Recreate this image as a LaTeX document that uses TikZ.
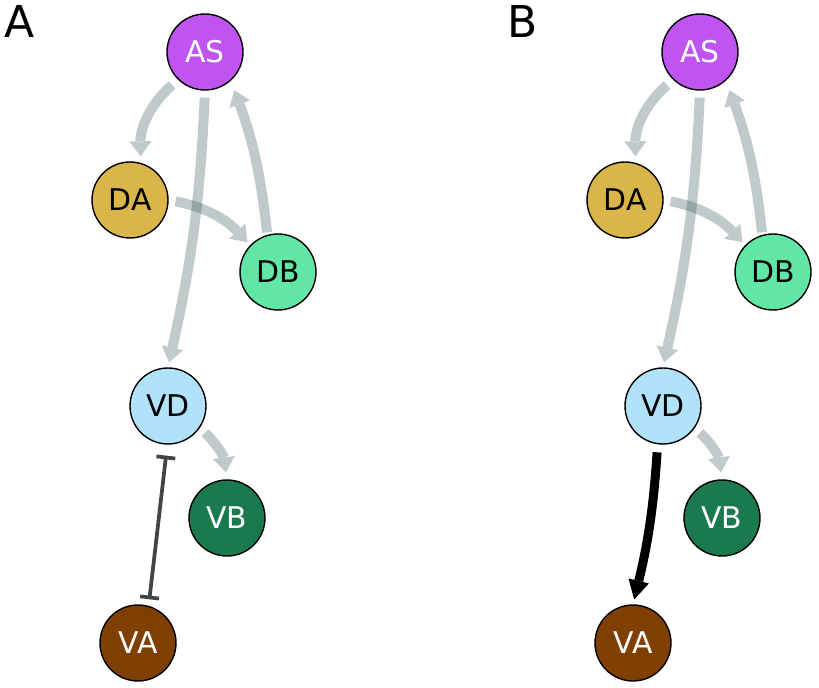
\documentclass[tikz,border=0pt]{standalone}
\usepackage{fontspec}
\setmainfont{DejaVu Sans}
\usepackage{tikz}
\usetikzlibrary{arrows.meta}
\usepackage{xcolor}
\definecolor{asviolet}{RGB}{192,84,240}
\definecolor{dagold}{RGB}{218,182,74}
\definecolor{dbmint}{RGB}{98,230,166}
\definecolor{vdsky}{RGB}{176,226,250}
\definecolor{vbgreen}{RGB}{26,122,78}
\definecolor{vabrown}{RGB}{127,63,0}
\definecolor{synslate}{RGB}{47,79,79}
\definecolor{inhgray}{RGB}{68,68,68}

\begin{document}
\begin{tikzpicture}[x=0.02cm, y=-0.02cm,
    cell/.style={circle, draw=black, line width=0.8pt, minimum size=1.52cm, inner sep=0pt,
        font=\fontsize{17}{17}\selectfont},
    syn/.style={line width=0.2cm, draw=synslate,
        -{Triangle[width=0.44cm, length=0.3cm, line width=0pt]}},
    inh/.style={line width=0.075cm, draw=inhgray,
        {Bar[width=0.38cm, line width=0.075cm]}-{Bar[width=0.38cm, line width=0.075cm]}},
    strong/.style={line width=0.18cm, draw=black,
        -{Triangle[width=0.42cm, length=0.38cm, line width=0pt]}},
    panel/.style={font=\fontsize{25}{25}\selectfont, inner sep=0pt}]

    \useasboundingbox (0,0) rectangle (819,688);

    % Panel labels
    \node[panel] (lblA) at (20,21) {A};
    \node[panel] (lblB) at (523,21) {B};

    % Neurons (same layout in both panels)
    \foreach \p/\dx in {a/0, b/495} {
        \node[cell, fill=asviolet, text=white] (AS\p) at (205+\dx,52) {AS};
        \node[cell, fill=dagold] (DA\p) at (130+\dx,200) {DA};
        \node[cell, fill=dbmint] (DB\p) at (278+\dx,272) {DB};
        \node[cell, fill=vdsky] (VD\p) at (168+\dx,406) {VD};
        \node[cell, fill=vbgreen, text=white] (VB\p) at (227+\dx,518) {VB};
        \node[cell, fill=vabrown, text=white] (VA\p) at (138+\dx,643) {VA};

        % Weak connections (each one see-through on its own)
        \foreach \s/\sa/\t/\ta/\b/\gs/\gt in {
            AS/226/DA/74/-25/0.16/0.13,
            AS/270/VD/90/5/0.14/0.1,
            DB/106/AS/312/-7/0.05/0.2,
            DA/0/DB/136/18/0.14/0.08,
            VD/325/VB/90/20/0.14/0.14} {
            \begin{scope}[transparency group, opacity=0.3]
                \draw[syn, shorten <=\gs cm, shorten >=\gt cm]
                    (\s\p.\sa) to[bend left=\b] (\t\p.\ta);
            \end{scope}
        }
    }

    % Panel A: inhibition VD -- VA
    \draw[inh, shorten <=0.22cm, shorten >=0.13cm] (VDa.269) -- (VAa.74);

    % Panel B: strong excitation VD -> VA
    \draw[strong, shorten <=0.16cm, shorten >=0.1cm] (VDb.262) to[bend left=5] (VAb.90);
\end{tikzpicture}
\end{document}
